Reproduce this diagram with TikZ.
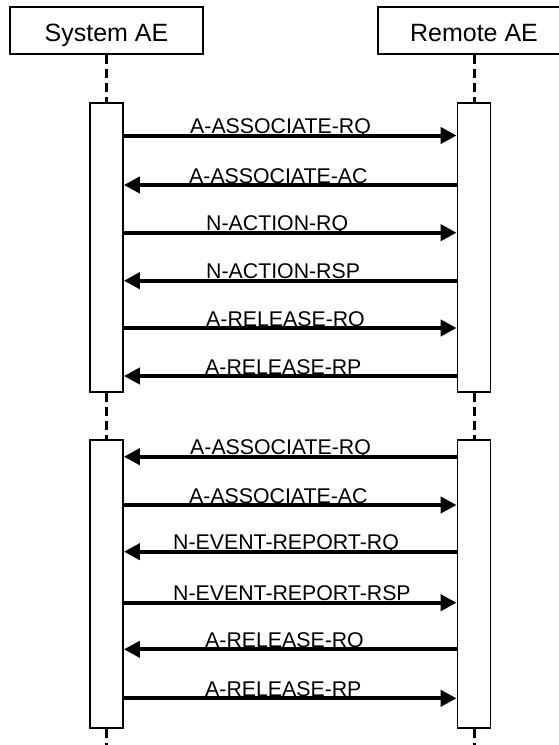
\documentclass[tikz,border=0pt]{standalone}
\usepackage{fontspec}
\setmainfont{Liberation Sans}
\usetikzlibrary{arrows.meta}
\begin{document}
\begin{tikzpicture}[x=1pt,y=-1pt,
  hdr/.style={draw, line width=2pt, inner sep=0pt, minimum width=193pt, minimum height=47pt,
    font=\fontsize{25}{28}\selectfont, text height=21pt, text depth=0pt},
  act/.style={draw, line width=1.8pt, fill=white, minimum width=33pt, inner sep=0pt},
  life/.style={line width=3pt, dash pattern=on 9pt off 5pt},
  msg/.style={line width=4pt, -{Triangle[length=16pt,width=16pt]}},
  lbl/.style={anchor=base west, inner sep=0pt, font=\fontsize{21.3}{24}\selectfont}]
\useasboundingbox (0,0) rectangle (559,745);
% headers
\node[hdr] (sys) at (106.5,30.5) {System AE};
\node[hdr] (rem) at (474,30.5) {Remote AE};
% activation boxes
\node[act, minimum height=289pt] (a1) at (106.5,247.5) {};
\node[act, minimum height=289pt] (b1) at (474,247.5) {};
\node[act, minimum height=288pt] (a2) at (106.5,584) {};
\node[act, minimum height=288pt] (b2) at (474,584) {};
\coordinate (aend) at (106.5,745);
\coordinate (bend) at (474,745);
% lifelines
\draw[life] (sys.south) -- (a1.north);
\draw[life] (rem.south) -- (b1.north);
\draw[life] (a1.south) -- (a2.north);
\draw[life] (b1.south) -- (b2.north);
\draw[life] (a2.south) -- (aend);
\draw[life] (b2.south) -- (bend);
% first session
\draw[msg] (a1.east |- 0,135.5) -- (b1.west |- 0,135.5);
\node[lbl] (m1) at (190,133.5) {A-ASSOCIATE-RQ};
\draw[msg] (b1.west |- 0,185) -- (a1.east |- 0,185);
\node[lbl] (m2) at (189,183) {A-ASSOCIATE-AC};
\draw[msg] (a1.east |- 0,232.7) -- (b1.west |- 0,232.7);
\node[lbl] (m3) at (206,230.7) {N-ACTION-RQ};
\draw[msg] (b1.west |- 0,280.7) -- (a1.east |- 0,280.7);
\node[lbl] (m4) at (206,278.7) {N-ACTION-RSP};
\draw[msg] (a1.east |- 0,328) -- (b1.west |- 0,328);
\node[lbl] (m5) at (206,326) {A-RELEASE-RQ};
\draw[msg] (b1.west |- 0,376) -- (a1.east |- 0,376);
\node[lbl] (m6) at (205,374) {A-RELEASE-RP};
% second session
\draw[msg] (b2.west |- 0,456.7) -- (a2.east |- 0,456.7);
\node[lbl] (n1) at (190,454.7) {A-ASSOCIATE-RQ};
\draw[msg] (a2.east |- 0,505) -- (b2.west |- 0,505);
\node[lbl] (n2) at (189,503) {A-ASSOCIATE-AC};
\draw[msg] (b2.west |- 0,551.7) -- (a2.east |- 0,551.7);
\node[lbl] (n3) at (173,549.7) {N-EVENT-REPORT-RQ};
\draw[msg] (a2.east |- 0,602.7) -- (b2.west |- 0,602.7);
\node[lbl] (n4) at (173,600.7) {N-EVENT-REPORT-RSP};
\draw[msg] (b2.west |- 0,649.3) -- (a2.east |- 0,649.3);
\node[lbl] (n5) at (205,647.3) {A-RELEASE-RQ};
\draw[msg] (a2.east |- 0,698.3) -- (b2.west |- 0,698.3);
\node[lbl] (n6) at (205,696.3) {A-RELEASE-RP};
\end{tikzpicture}
\end{document}
